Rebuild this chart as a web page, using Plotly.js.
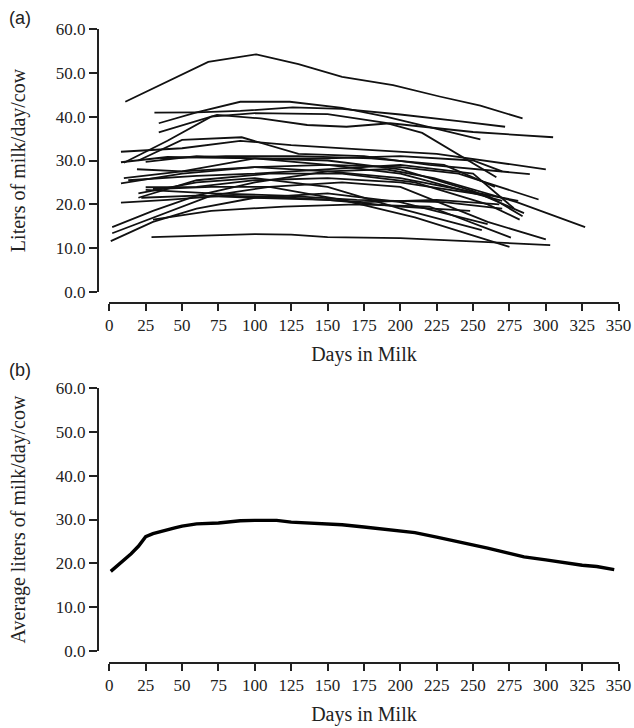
<!DOCTYPE html>
<html>
<head>
<meta charset="utf-8">
<script src="https://cdn.plot.ly/plotly-3.0.1.min.js"></script>
<style>html,body{margin:0;padding:0;background:#fff;}#chart{width:634px;height:728px;}</style>
</head>
<body>
<div id="chart"></div>
<script>
// ---- Panel (a): individual cow lactation curves (days in milk, litres/day) ----
const cow01Days = [11, 40, 68, 101, 130, 160, 195, 227, 255, 284];
const cow01Milk = [43.4, 48.0, 52.5, 54.2, 52.0, 49.1, 47.2, 44.6, 42.5, 39.6];
const cow02Days = [31, 60, 90, 126, 160, 200, 240, 272];
const cow02Milk = [40.9, 41.0, 41.3, 42.1, 41.8, 40.5, 39.0, 37.7];
const cow03Days = [34, 60, 90, 124, 160, 190, 215, 255];
const cow03Milk = [38.5, 41.0, 43.4, 43.4, 42.0, 40.0, 38.0, 34.8];
const cow04Days = [34, 55, 74, 104, 136, 163, 193, 250, 305];
const cow04Milk = [36.4, 38.5, 40.4, 39.6, 38.1, 37.7, 38.5, 36.5, 35.3];
const cow05Days = [10, 40, 70, 100, 150, 190, 215, 266];
const cow05Milk = [29.5, 34.5, 40.0, 40.8, 40.6, 38.6, 36.3, 26.2];
const cow06Days = [8, 50, 90, 125, 175, 225, 300];
const cow06Milk = [32.0, 32.8, 34.5, 33.5, 32.5, 31.5, 28.0];
const cow07Days = [20, 50, 91, 110, 130, 175, 220, 289];
const cow07Milk = [30.0, 34.7, 35.3, 33.5, 31.5, 31.0, 29.0, 26.9];
const cow08Days = [8, 40, 100, 150, 200, 250, 270];
const cow08Milk = [29.6, 30.8, 30.5, 30.5, 31.0, 30.0, 27.5];
const cow09Days = [25, 60, 100, 150, 200, 240, 295];
const cow09Milk = [29.7, 31.0, 30.5, 29.0, 28.5, 27.0, 21.1];
const cow10Days = [19, 50, 100, 150, 200, 270];
const cow10Milk = [28.0, 27.5, 28.5, 29.0, 27.0, 20.8];
const cow11Days = [8, 50, 100, 150, 200, 281];
const cow11Milk = [24.8, 27.0, 28.5, 27.5, 26.0, 20.8];
const cow12Days = [13, 60, 100, 150, 200, 250, 278];
const cow12Milk = [25.5, 26.5, 27.0, 28.0, 29.0, 27.0, 19.1];
const cow13Days = [25, 60, 100, 150, 200, 260, 284];
const cow13Milk = [23.9, 24.0, 25.5, 26.0, 25.0, 22.0, 17.3];
const cow14Days = [25, 70, 120, 170, 230, 270];
const cow14Milk = [23.3, 22.5, 22.0, 21.0, 20.5, 19.0];
const cow15Days = [22, 60, 100, 150, 200, 248];
const cow15Milk = [21.5, 22.0, 21.5, 21.0, 19.5, 18.5];
const cow16Days = [8, 40, 80, 125, 175, 225, 268];
const cow16Milk = [20.4, 21.0, 22.0, 21.5, 20.5, 21.0, 20.0];
const cow17Days = [2, 30, 60, 100, 150, 190, 223, 280, 327];
const cow17Milk = [14.8, 18.5, 22.0, 25.0, 27.5, 28.0, 26.0, 20.5, 14.8];
const cow18Days = [2, 30, 70, 110, 160, 200, 260, 300];
const cow18Milk = [13.4, 17.0, 22.0, 24.0, 25.0, 24.0, 16.0, 12.0];
const cow19Days = [1, 30, 60, 100, 150, 200, 260];
const cow19Milk = [11.6, 16.0, 19.0, 21.5, 22.5, 20.5, 15.5];
const cow20Days = [30, 70, 120, 170, 220, 276];
const cow20Milk = [16.5, 18.5, 19.5, 20.0, 19.5, 12.4];
const cow21Days = [29, 70, 100, 125, 150, 200, 250, 303];
const cow21Milk = [12.5, 13.0, 13.2, 13.1, 12.5, 12.3, 11.5, 10.7];
const cow22Days = [20, 60, 100, 150, 200, 256];
const cow22Milk = [22.5, 25.0, 26.0, 24.0, 19.0, 14.1];
const cow23Days = [30, 70, 110, 160, 210, 275];
const cow23Milk = [23.5, 24.0, 24.0, 21.0, 17.0, 10.3];
const cow24Days = [10, 50, 100, 150, 200, 250, 285];
const cow24Milk = [26.0, 27.5, 30.5, 30.0, 28.0, 23.0, 18.0];
const cow25Days = [35, 80, 130, 180, 230, 265];
const cow25Milk = [30.5, 31.0, 31.0, 30.5, 29.0, 24.0];
const cow26Days = [20, 60, 110, 160, 210, 260, 282];
const cow26Milk = [21.5, 25.5, 27.0, 27.0, 25.0, 20.0, 16.5];

// ---- Panel (b): herd average curve ----
const avgDays = [1, 5, 10, 15, 20, 25, 30, 35, 40, 45, 50, 55, 60, 75, 90, 100, 115, 125, 140, 150, 160, 175, 190, 200, 210, 225, 240, 250, 260, 275, 285, 300, 315, 325, 335, 347];
const avgMilk = [18.2, 19.3, 20.6, 22.2, 23.9, 26.1, 26.8, 27.3, 27.8, 28.1, 28.5, 28.8, 29.0, 29.2, 29.7, 29.8, 29.8, 29.4, 29.1, 29.0, 28.8, 28.3, 27.8, 27.4, 27.0, 26.0, 25.0, 24.3, 23.5, 22.3, 21.5, 20.8, 20.0, 19.6, 19.3, 18.6];

// x-axis tick labels
const dayTicks = [0, 25, 50, 75, 100, 125, 150, 175, 200, 225, 250, 275, 300, 325, 350];

const cowDays = [cow01Days, cow02Days, cow03Days, cow04Days, cow05Days, cow06Days, cow07Days, cow08Days, cow09Days, cow10Days, cow11Days, cow12Days, cow13Days, cow14Days, cow15Days, cow16Days, cow17Days, cow18Days, cow19Days, cow20Days, cow21Days, cow22Days, cow23Days, cow24Days, cow25Days, cow26Days];
const cowMilk = [cow01Milk, cow02Milk, cow03Milk, cow04Milk, cow05Milk, cow06Milk, cow07Milk, cow08Milk, cow09Milk, cow10Milk, cow11Milk, cow12Milk, cow13Milk, cow14Milk, cow15Milk, cow16Milk, cow17Milk, cow18Milk, cow19Milk, cow20Milk, cow21Milk, cow22Milk, cow23Milk, cow24Milk, cow25Milk, cow26Milk];

const traces = [];
cowDays.forEach((d, i) => {
  traces.push({x: d, y: cowMilk[i], type: 'scatter', mode: 'lines',
    line: {color: '#111', width: 1.8}, xaxis: 'x', yaxis: 'y', hoverinfo: 'skip'});
});
traces.push({x: avgDays, y: avgMilk, type: 'scatter', mode: 'lines',
  line: {color: '#000', width: 3.4}, xaxis: 'x2', yaxis: 'y2'});

const W = 634, H = 728;
const px = v => v / W;
const py = v => 1 - v / H;
const FONT = 'Liberation Serif, Times New Roman, serif';

function xAx(posY) {
  return {
    domain: [px(109.3), px(618.6)], anchor: 'free', position: py(posY),
    range: [0, 350], tickvals: dayTicks, ticktext: dayTicks.map(String),
    showline: true, linecolor: '#222', linewidth: 2, mirror: false,
    ticks: 'outside', ticklen: 7, tickwidth: 2, tickcolor: '#222',
    showgrid: false, zeroline: false,
    tickfont: {family: FONT, size: 17, color: '#222'},
    title: {text: 'Days in Milk', font: {family: FONT, size: 20, color: '#222'}, standoff: 12},
    fixedrange: true
  };
}
function yAx(top, bottom, title) {
  return {
    domain: [py(bottom), py(top)], anchor: 'free', position: px(98),
    range: [0, 60], tickvals: [0, 10, 20, 30, 40, 50, 60], tickformat: '.1f',
    showline: true, linecolor: '#222', linewidth: 2,
    ticks: 'outside', ticklen: 8, tickwidth: 2, tickcolor: '#222',
    showgrid: false, zeroline: false,
    tickfont: {family: FONT, size: 17, color: '#222'},
    title: {text: title, font: {family: FONT, size: 20, color: '#222'}, standoff: 24},
    fixedrange: true
  };
}

const layout = {
  width: W, height: H,
  margin: {l: 0, r: 0, t: 0, b: 0},
  paper_bgcolor: '#fff', plot_bgcolor: '#fff',
  showlegend: false,
  xaxis: xAx(303),
  yaxis: yAx(29, 292, 'Liters of milk/day/cow'),
  xaxis2: xAx(663),
  yaxis2: yAx(387.7, 651.3, 'Average liters of milk/day/cow'),
  annotations: [
    {text: '(a)', xref: 'paper', yref: 'paper', x: px(20), y: py(18), xanchor: 'center', yanchor: 'middle',
     showarrow: false, font: {family: 'Liberation Sans, Arial, sans-serif', size: 18, color: '#222'}},
    {text: '(b)', xref: 'paper', yref: 'paper', x: px(20), y: py(370), xanchor: 'center', yanchor: 'middle',
     showarrow: false, font: {family: 'Liberation Sans, Arial, sans-serif', size: 18, color: '#222'}}
  ]
};

Plotly.newPlot('chart', traces, layout, {staticPlot: true, displayModeBar: false});
</script>
</body>
</html>
